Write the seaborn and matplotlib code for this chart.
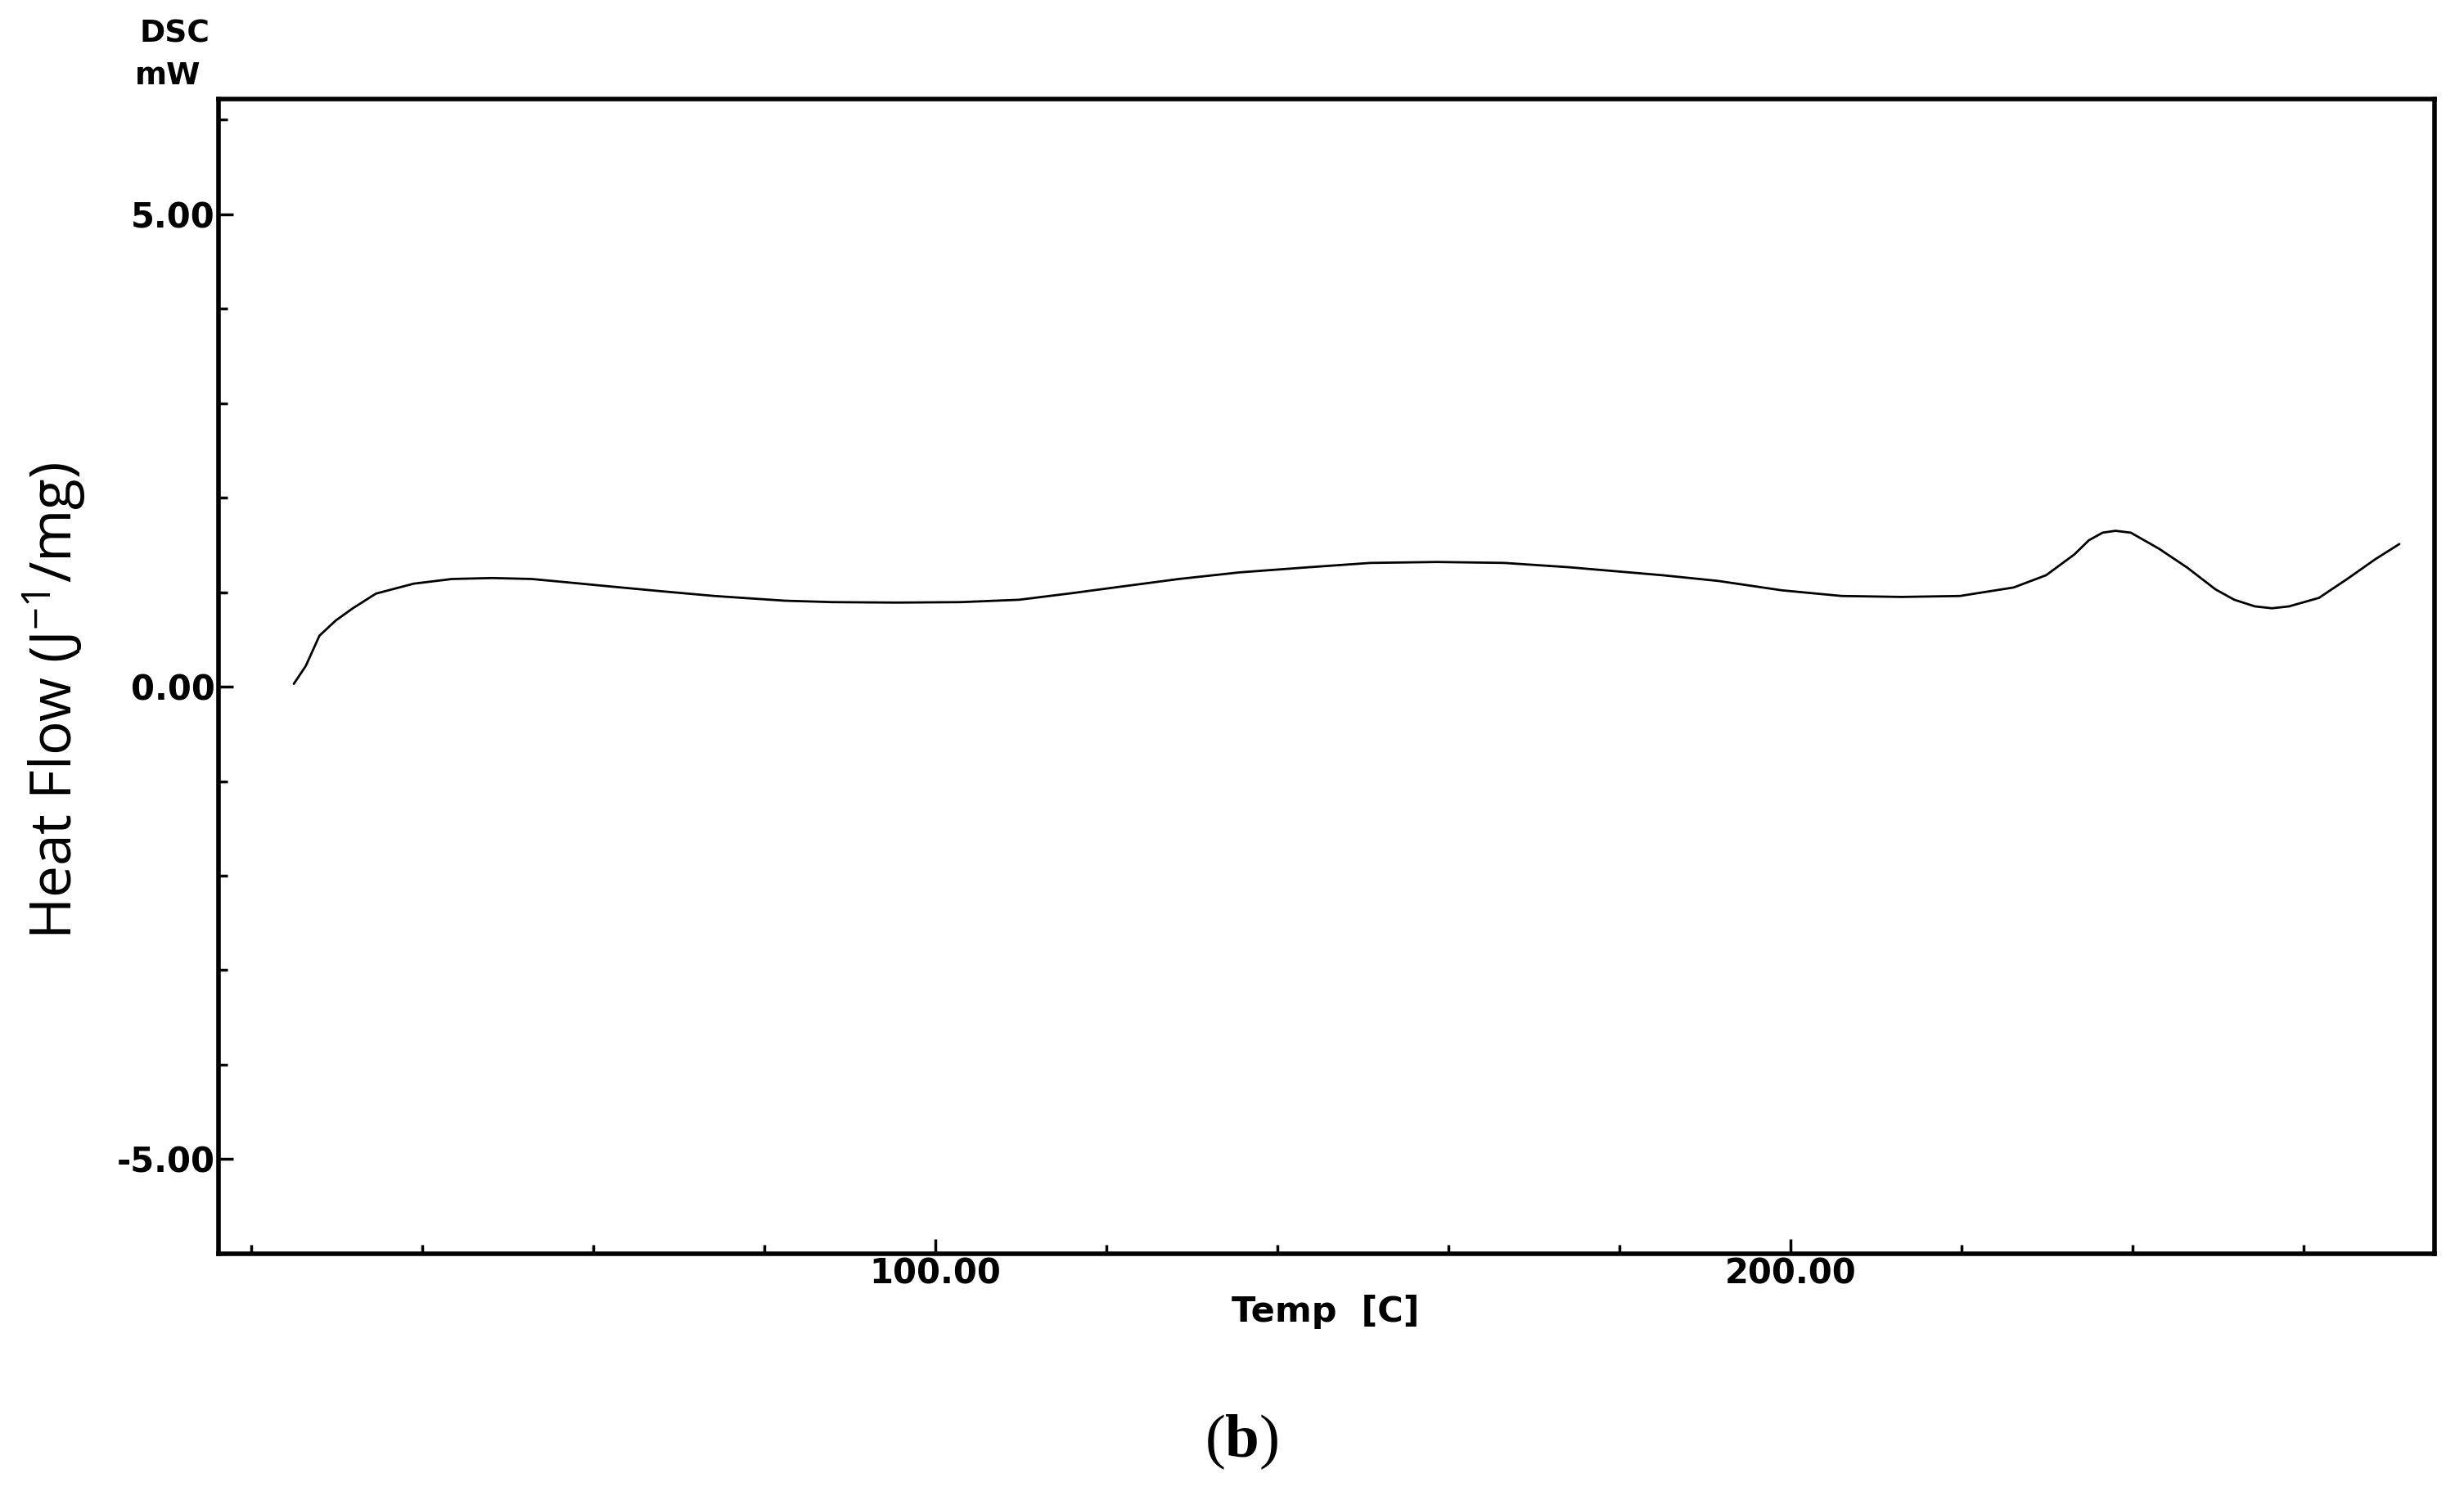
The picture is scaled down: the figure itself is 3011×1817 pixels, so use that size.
import matplotlib
matplotlib.use("Agg")
import matplotlib.pyplot as plt
import seaborn as sns
import pandas as pd
import numpy as np

# ---- data ----
temp_c = [25.0, 26.4, 28.0, 29.9, 31.9, 34.6, 39.0, 43.5, 48.2, 52.8, 57.5, 62.1,
          68.0, 74.2, 82.4, 88.0, 95.5, 103.0, 109.8, 116.0, 121.8, 128.5, 135.6,
          143.8, 150.9, 158.7, 166.5, 174.0, 185.0, 191.5, 199.0, 206.0, 213.0,
          219.8, 226.1, 229.9, 233.2, 234.9, 236.5, 238.0, 239.8, 243.1, 246.4,
          249.7, 251.9, 254.3, 256.3, 258.3, 261.8, 265.1, 268.4, 271.2]
heat_flow = [0.03, 0.22, 0.54, 0.70, 0.83, 0.985, 1.09, 1.14, 1.15, 1.14, 1.10, 1.06,
             1.01, 0.96, 0.91, 0.895, 0.89, 0.895, 0.92, 0.99, 1.06, 1.14, 1.21,
             1.265, 1.31, 1.32, 1.31, 1.265, 1.18, 1.12, 1.02, 0.96, 0.95,
             0.96, 1.05, 1.18, 1.40, 1.55, 1.63, 1.65, 1.63, 1.46, 1.26,
             1.03, 0.92, 0.85, 0.83, 0.85, 0.94, 1.14, 1.35, 1.51]

x_major = [100, 200]
x_major_labels = ["100.00", "200.00"]
x_minor = [20, 40, 60, 80, 120, 140, 160, 180, 220, 240, 260]
y_major = [-5, 0, 5]
y_major_labels = ["-5.00", "0.00", "5.00"]
y_minor = [-6, -4, -3, -2, -1, 1, 2, 3, 4, 6]

df = pd.DataFrame({"Temp": temp_c, "HeatFlow": heat_flow})

sns.set_theme(style="white")
plt.rcParams["font.family"] = ["DejaVu Sans"]
plt.rcParams["mathtext.fontset"] = "custom"
plt.rcParams["mathtext.rm"] = "Open Sans"
plt.rcParams["mathtext.it"] = "Open Sans"
plt.rcParams["mathtext.bf"] = "Liberation Serif:bold"

fig = plt.figure(figsize=(30.11, 18.17), dpi=100)
ax = fig.add_axes([0.0887, 0.157, 0.988 - 0.0887, 0.9334 - 0.157])

sns.lineplot(data=df, x="Temp", y="HeatFlow", ax=ax, color="black",
             linewidth=2.0, sort=False, estimator=None)

ax.set_xlim(16.2, 275.3)
ax.set_ylim(-6.0, 6.22)

for s in ax.spines.values():
    s.set_visible(True)
    s.set_color("black")
    s.set_linewidth(4)

ax.set_xticks(x_major)
ax.set_xticklabels(x_major_labels)
ax.set_xticks(x_minor, minor=True)
ax.set_yticks(y_major)
ax.set_yticklabels(y_major_labels)
ax.set_yticks(y_minor, minor=True)

ax.tick_params(axis="both", which="major", direction="in", length=13, width=2.5,
               color="black", labelsize=30, pad=3)
ax.tick_params(axis="both", which="minor", direction="in", length=8, width=2.5,
               color="black")
ax.tick_params(axis="x", which="both", bottom=True, top=False)
ax.tick_params(axis="y", which="both", left=True, right=False)
for lab in ax.get_xticklabels() + ax.get_yticklabels():
    lab.set_fontweight("bold")
    lab.set_color("black")

ax.set_xlabel("")
ax.set_ylabel("")

fig.text(0.538, 0.118, "Temp  [C]", ha="center", va="center",
         fontsize=31, fontweight="bold", color="black")
fig.text(0.071, 0.977, "DSC", ha="center", va="center",
         fontsize=27, fontweight="bold", color="black")
fig.text(0.068, 0.949, "mW", ha="center", va="center",
         fontsize=27, fontweight="bold", color="black")
fig.text(0.022, 0.529, r"Heat Flow (J$^{-1}$/mg)", ha="center", va="center",
         rotation=90, fontsize=50, family="Open Sans", color="black")
fig.text(0.504, 0.030, r"($\mathbf{b}$)", ha="center", va="center",
         fontsize=54, family="Liberation Serif", color="black")

fig.savefig("out.png", dpi=100, facecolor="white")
